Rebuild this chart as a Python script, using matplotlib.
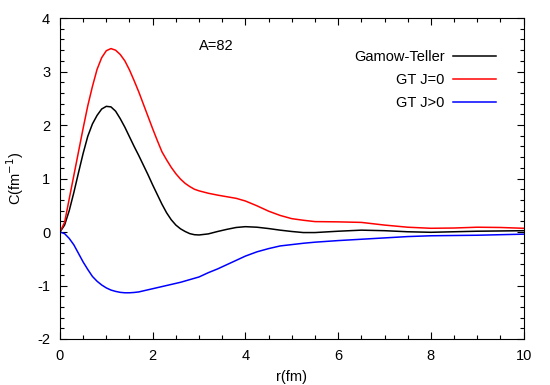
import matplotlib
matplotlib.use('Agg')
import matplotlib.pyplot as plt
from matplotlib.ticker import MultipleLocator

plt.rcParams['font.family'] = ['Liberation Sans', 'DejaVu Sans']
plt.rcParams['axes.unicode_minus'] = False

# radius grid (fm)
r = [0.0, 0.1, 0.2, 0.3, 0.4, 0.5, 0.6, 0.7, 0.8, 0.9,
     1.0, 1.1, 1.2, 1.3, 1.4, 1.5, 1.6, 1.7, 1.8, 1.9,
     2.0, 2.1, 2.2, 2.3, 2.4, 2.5, 2.6, 2.7, 2.8, 2.9,
     3.0, 3.2, 3.4, 3.6, 3.8, 4.0, 4.25, 4.5, 4.75, 5.0,
     5.25, 5.5, 6.0, 6.5, 7.0, 7.5, 8.0, 8.5, 9.0, 9.5, 10.0]

gamow_teller = [0.0, 0.13, 0.40, 0.74, 1.11, 1.47, 1.79, 2.02, 2.18, 2.30,
                2.35, 2.34, 2.26, 2.12, 1.96, 1.78, 1.60, 1.43, 1.25, 1.07,
                0.88, 0.70, 0.52, 0.36, 0.23, 0.13, 0.06, 0.01, -0.03, -0.05,
                -0.055, -0.035, 0.01, 0.05, 0.085, 0.10, 0.09, 0.065, 0.035, 0.01,
                -0.01, -0.01, 0.015, 0.035, 0.025, 0.005, -0.005, 0.005, 0.015, 0.02, 0.025]

gt_j0 = [0.0, 0.18, 0.62, 1.06, 1.50, 1.94, 2.36, 2.72, 3.04, 3.26,
         3.39, 3.43, 3.40, 3.32, 3.20, 3.03, 2.83, 2.62, 2.39, 2.16,
         1.93, 1.71, 1.50, 1.35, 1.21, 1.09, 0.99, 0.91, 0.85, 0.80,
         0.77, 0.725, 0.69, 0.66, 0.63, 0.58, 0.49, 0.39, 0.31, 0.25,
         0.22, 0.195, 0.19, 0.18, 0.13, 0.09, 0.07, 0.075, 0.09, 0.085, 0.07]

gt_jgt0 = [0.0, -0.03, -0.12, -0.24, -0.40, -0.56, -0.70, -0.83, -0.92, -0.99,
           -1.045, -1.085, -1.11, -1.128, -1.136, -1.136, -1.13, -1.12, -1.10, -1.08,
           -1.06, -1.04, -1.02, -1.00, -0.98, -0.96, -0.94, -0.915, -0.89, -0.865,
           -0.84, -0.76, -0.69, -0.61, -0.53, -0.45, -0.37, -0.31, -0.26, -0.235,
           -0.21, -0.19, -0.16, -0.135, -0.11, -0.085, -0.07, -0.065, -0.06, -0.05, -0.04]

fig = plt.figure(figsize=(5.5, 3.85), dpi=100)
ax = fig.add_axes([0.109, 0.1195, 0.843, 0.8335])

ax.plot(r, gamow_teller, color='black', lw=1.1, label='Gamow-Teller')
ax.plot(r, gt_j0, color='red', lw=1.1, label='GT J=0')
ax.plot(r, gt_jgt0, color='blue', lw=1.1, label='GT J>0')

ax.set_xlim(0, 10)
ax.set_ylim(-2, 4)
ax.xaxis.set_major_locator(MultipleLocator(2))
ax.xaxis.set_minor_locator(MultipleLocator(0.5))
ax.yaxis.set_major_locator(MultipleLocator(1))
ax.yaxis.set_minor_locator(MultipleLocator(0.2))
ax.tick_params(which='both', direction='in', top=True, right=True, labelsize=10.5)
ax.tick_params(which='major', length=5, width=0.8, pad=7)
ax.tick_params(which='minor', length=3, width=0.8)
for s in ax.spines.values():
    s.set_linewidth(0.8)

ax.set_xlabel('r(fm)', fontsize=10.5)
ax.set_ylabel('C(fm$^{-1}$)', fontsize=10.5)
ax.xaxis.set_label_coords(0.5, -0.097)
ax.yaxis.set_label_coords(-0.073, 0.5)

ax.text(3.375, 3.48, 'A=82', fontsize=10.5, ha='center', va='center')

ax.legend(loc='upper right', bbox_to_anchor=(0.94, 0.90), frameon=False,
          markerfirst=False, fontsize=10.5, handlelength=2.9, handletextpad=0.6,
          labelspacing=0.62, borderpad=0, borderaxespad=0)

fig.savefig('out.png', dpi=100)
